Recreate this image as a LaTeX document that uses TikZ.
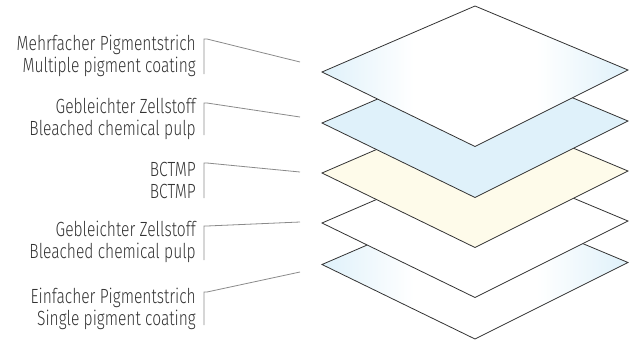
\documentclass[tikz,border=0pt]{standalone}
\usepackage{fontspec}
\setmainfont{Fira Sans Light}[FakeStretch=0.76]
\definecolor{layblue}{HTML}{DFF1FA}
\definecolor{layyellow}{HTML}{FEFBEA}
\definecolor{edgegray}{HTML}{333333}
\definecolor{leadgray}{HTML}{8A8A8A}
\definecolor{txtgray}{HTML}{333333}
\pgfdeclarehorizontalshading{sidefade}{100bp}{color(0bp)=(layblue); color(25bp)=(layblue); color(40bp)=(white); color(60bp)=(white); color(75bp)=(layblue); color(100bp)=(layblue)}
\tikzset{
  sheet/.style={draw=edgegray, line width=0.8pt, line join=miter},
  lead/.style={draw=leadgray, line width=0.8pt},
  lbl/.style={anchor=east, align=right, text=txtgray, inner sep=0pt, font=\fontsize{20.5}{22}\selectfont},
}
\newcommand{\sheetpath}[1]{(322,#1) -- (475,#1-66) -- (628,#1-2) -- (475,#1+74.5) -- cycle}
\begin{document}
\begin{tikzpicture}[x=1pt,y=-1pt]
\useasboundingbox (0,0) rectangle (631,343);
% layers, bottom first
\path[sheet, shading=sidefade] \sheetpath{264.5};
\path[sheet, fill=white] \sheetpath{223};
\path[sheet, fill=layyellow] \sheetpath{173};
\path[sheet, fill=layblue] \sheetpath{123};
\path[sheet, shading=sidefade] \sheetpath{72};
% labels
\node[lbl] (l1) at (196,56) {Mehrfacher Pigmentstrich\\Multiple pigment coating};
\node[lbl] (l2) at (196,119) {Gebleichter Zellstoff\\Bleached chemical pulp};
\node[lbl] (l3) at (196,180) {BCTMP\\BCTMP};
\node[lbl] (l4) at (196,242) {Gebleichter Zellstoff\\Bleached chemical pulp};
\node[lbl] (l5) at (196,309) {Einfacher Pigmentstrich\\Single pigment coating};
% leader coordinates
\coordinate (b1) at (204,74);  \coordinate (t1) at (204,39);  \coordinate (e1) at (300,62);
\coordinate (b2) at (204,135); \coordinate (t2) at (204,103); \coordinate (e2) at (300,117);
\coordinate (b3) at (204,198); \coordinate (t3) at (204,163); \coordinate (e3) at (300,172);
\coordinate (b4) at (204,260); \coordinate (t4) at (204,226); \coordinate (e4) at (300,222);
\coordinate (b5) at (204,325); \coordinate (t5) at (204,292); \coordinate (e5) at (300,272);
\foreach \i in {1,...,5}{
  \draw[lead] (b\i) -- (t\i) -- ([xshift=3pt]t\i) -- (e\i);
}
\end{tikzpicture}
\end{document}
